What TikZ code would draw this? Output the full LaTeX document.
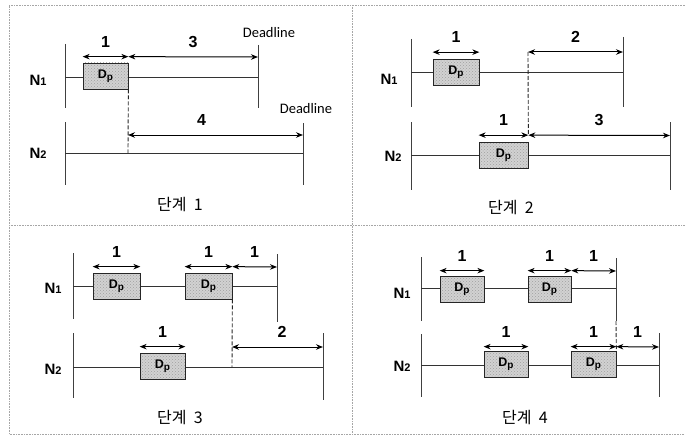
\documentclass[tikz,border=0pt]{standalone}
\usepackage{fontspec}
\setmainfont{Liberation Sans}
\newfontfamily\krfont{Noto Sans CJK KR}
\newfontfamily\dlfont{Carlito}
\usetikzlibrary{arrows.meta,patterns}
\newcommand{\numfont}{\fontsize{16}{16}\selectfont\bfseries}
\newcommand{\nlab}[1]{{\fontsize{15}{15}\selectfont\bfseries N}{\fontsize{11}{11}\selectfont\bfseries #1}}
\newcommand{\dpl}{{\fontsize{12.5}{12.5}\selectfont\bfseries D\raisebox{-2pt}{\fontsize{10}{10}\selectfont p}}}

\begin{document}
\begin{tikzpicture}[x=1pt, y=-1pt,
  >={Stealth[length=7pt, width=5.5pt]},
  dp/.style={draw=black!85, line width=0.7pt, preaction={fill=gray!35}, pattern=crosshatch dots,
             pattern color=gray!75, minimum width=45pt, minimum height=26pt, inner sep=0pt},
  tl/.style={draw=black!80, line width=0.6pt},
  lim/.style={draw=black!75, line width=1pt},
  dur/.style={<->, line width=1pt},
  dep/.style={dash pattern=on 4pt off 2pt, line width=0.9pt, black!85},
  num/.style={font=\numfont, inner sep=1pt, above=8pt},
  dl/.style={font=\dlfont\fontsize{14.5}{14.5}\selectfont},
  stage/.style={font=\krfont\fontsize{16}{16}\selectfont},
  frame/.style={draw=gray!70, densely dotted, line width=0.6pt}]
\useasboundingbox (0,0) rectangle (685,436);
% ---------------- frame
\draw[frame] (685,5) -- (9,5) -- (9,434) -- (685,434);
\draw[frame] (352,5) -- (352,434);
\draw[frame] (9,225) -- (685,225);
% ---------------- stage 1
\draw[lim] (65,44) -- (65,108);
\draw[lim] (258,45) -- (258,108);
\draw[lim] (65,122) -- (65,185);
\draw[lim] (303,123) -- (303,185);
\draw[tl] (65,77) -- (258,77);
\draw[tl] (65,153) -- (303,153);
\node[dp] (a1) at (105.5,76) {\dpl};
\node (na1) at (38,80) {\nlab{1}};
\node (na2) at (38,153) {\nlab{2}};
\node[dl] (dla) at (269,33) {Deadline};
\node[dl] (dlb) at (306,109) {Deadline};
\coordinate (ta) at (128,135);
\draw[dur] ([yshift=6pt]a1.north west) -- node[num] {1} ([yshift=6pt]a1.north east);
\draw[dur] ([yshift=6pt]a1.north east) -- node[num] {3} (258,57);
\draw[dep] (a1.south east) -- (128,153);
\draw[dur] (ta) -- node[num, pos=0.42] {4} (303,135);
\node[stage] (s1) at (180,205) {단계\hspace{0.45em}1};
% ---------------- stage 2
\draw[lim] (411,39) -- (411,107);
\draw[lim] (623,37) -- (623,107);
\draw[lim] (411,122) -- (411,190);
\draw[lim] (670,122) -- (670,190);
\draw[tl] (411,72) -- (623,72);
\draw[tl] (411,155) -- (670,155);
\node[dp, minimum width=46pt] (b1) at (456,72) {\dpl};
\node[dp, minimum width=49pt] (b2) at (503.5,155) {\dpl};
\node (nb1) at (389,79) {\nlab{1}};
\node (nb2) at (393,156) {\nlab{2}};
\coordinate (tb) at (528,52);
\draw[dur] ([yshift=6.5pt]b1.north west) -- node[num] {1} ([yshift=6.5pt]b1.north east);
\draw[dep] (tb) -- ([yshift=6.5pt]b2.north east);
\draw[dur] (tb) -- node[num] {2} (623,52);
\draw[dur] ([yshift=6.5pt]b2.north west) -- node[num] {1} ([yshift=6.5pt]b2.north east);
\draw[dur] ([yshift=6.5pt]b2.north east) -- node[num] {3} (670,135.5);
\node[stage] (s2) at (511,208) {단계\hspace{0.45em}2};
% ---------------- stage 3
\draw[lim] (73,253) -- (73,319);
\draw[lim] (277,254) -- (277,322);
\draw[lim] (73,333) -- (73,398);
\draw[lim] (323,333) -- (323,400);
\draw[tl] (73,286) -- (277,286);
\draw[tl] (73,367) -- (323,367);
\node[dp, minimum width=47pt] (c1) at (116.5,286) {\dpl};
\node[dp, minimum width=47pt] (c2) at (208.5,286) {\dpl};
\node[dp] (c3) at (162.5,366) {\dpl};
\node (nc1) at (53,288) {\nlab{1}};
\node (nc2) at (53,369) {\nlab{2}};
\coordinate (tc) at (232,347);
\draw[dur] ([yshift=6pt]c1.north west) -- node[num] {1} ([yshift=6pt]c1.north east);
\draw[dur] ([yshift=6pt]c2.north west) -- node[num] {1} ([yshift=6pt]c2.north east);
\draw[dur] ([yshift=6pt]c2.north east) -- node[num] {1} (277,267);
\draw[dep] (c2.south east) -- (232,367);
\draw[dur] ([yshift=6pt]c3.north west) -- node[num] {1} ([yshift=6pt]c3.north east);
\draw[dur] (tc) -- node[num, pos=0.55] {2} (323,347);
\node[stage] (s3) at (180,418) {단계\hspace{0.45em}3};
% ---------------- stage 4
\draw[lim] (421,257) -- (421,321);
\draw[lim] (616,258) -- (616,321);
\draw[lim] (421,334) -- (421,397);
\draw[lim] (659,333) -- (659,397);
\draw[tl] (421,288) -- (616,288);
\draw[tl] (421,365) -- (659,365);
\node[dp, minimum width=44pt] (d1) at (462,289) {\dpl};
\node[dp, minimum width=43pt] (d2) at (549.5,289) {\dpl};
\node[dp, minimum width=44pt] (d3) at (506,364.5) {\dpl};
\node[dp] (d4) at (593.5,364.5) {\dpl};
\node (nd1) at (402,293) {\nlab{1}};
\node (nd2) at (402,366) {\nlab{2}};
\draw[dur] ([yshift=5pt]d1.north west) -- node[num] {1} ([yshift=5pt]d1.north east);
\draw[dur] ([yshift=5pt]d2.north west) -- node[num] {1} ([yshift=5pt]d2.north east);
\draw[dur] ([yshift=5pt]d2.north east) -- node[num] {1} (616,271);
\draw[dep] (616,321) -- (d4.north east);
\draw[dur] ([yshift=4.5pt]d3.north west) -- node[num] {1} ([yshift=4.5pt]d3.north east);
\draw[dur] ([yshift=4.5pt]d4.north west) -- node[num] {1} ([yshift=4.5pt]d4.north east);
\draw[dur] ([yshift=4.5pt]d4.north east) -- node[num] {1} (659,347);
\node[stage] (s4) at (525,418) {단계\hspace{0.45em}4};
\end{tikzpicture}
\end{document}
